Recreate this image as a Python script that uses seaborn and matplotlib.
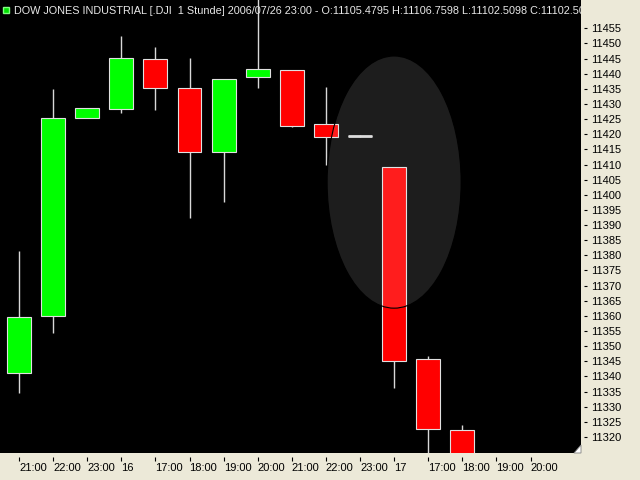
import numpy as np
import seaborn as sns
import matplotlib.pyplot as plt
from matplotlib.patches import Ellipse, Polygon

# Stundenkerzen DJI
tick_labels = ['21:00', '22:00', '23:00', '16', '17:00', '18:00', '19:00', '20:00',
               '21:00', '22:00', '23:00', '17', '17:00', '18:00', '19:00', '20:00']
opens = [11341.0, 11360.0, 11425.3, 11428.3, 11445.0, 11435.4, 11414.2, 11438.8,
         11441.1, 11423.3, 11419.4, 11409.1, 11345.8, 11322.3]
closes = [11359.6, 11425.3, 11428.6, 11445.1, 11435.2, 11414.0, 11438.4, 11441.5,
          11422.7, 11419.0, 11419.4, 11345.1, 11322.7, 11308.0]
highs = [11381.4, 11434.9, 11428.6, 11452.4, 11448.7, 11445.3, 11438.4, 11466.0,
         11441.1, 11435.5, 11419.7, 11409.1, 11346.8, 11324.0]
lows = [11334.5, 11354.3, 11425.3, 11427.0, 11427.9, 11392.2, 11397.6, 11435.2,
        11422.3, 11409.8, 11419.1, 11336.1, 11313.0, 11305.0]
y_ticks = list(range(11320, 11460, 5))
title = ('DOW JONES INDUSTRIAL [.DJI  1 Stunde] 2006/07/26 23:00 - O:11105.4795 '
         'H:11106.7598 L:11102.5098 C:11102.5098')

sns.set_style('dark')
plt.rcParams['font.family'] = ['Liberation Sans', 'DejaVu Sans']

bg = '#ece9d8'
fig = plt.figure(figsize=(6.4, 4.8), dpi=100, facecolor=bg)
ax = fig.add_axes([0, 27 / 480, 581 / 640, 453 / 480])
ax.set_facecolor('black')

o = np.array(opens)
c = np.array(closes)
x = np.arange(len(o))
cols = np.where(c > o, '#00ff00', '#ff0000')

ax.vlines(x, lows, highs, color='#d8d8d8', linewidth=1, zorder=1)
ax.bar(x, np.abs(c - o), bottom=np.minimum(o, c), width=0.7, color=cols,
       edgecolor='#e0e0e0', linewidth=0.8, zorder=2)
doji = c == o
ax.hlines(o[doji], x[doji] - 0.35, x[doji] + 0.35, color='#d8d8d8', linewidth=2, zorder=3)

# grauer Kreis
ax.add_patch(Ellipse((11.0, 11404.2), 3.93, 83.3, facecolor=(1, 1, 1, 0.118),
                     edgecolor='black', linewidth=0.8, zorder=4))

ax.set_xlim(-0.557, 16.48)
ax.set_ylim(11314.7, 11464.35)

# Titelzeile
ax.text(13.5 / 581, 1 - 11.5 / 453, title, transform=ax.transAxes, va='center', ha='left',
        color='#e8e8e8', fontsize=7.8, clip_on=True, zorder=0)
ax.plot([6 / 581], [1 - 10 / 453], marker='s', markersize=4, color='#00e000',
        markeredgecolor='#80ff80', transform=ax.transAxes, zorder=5)

ax.add_patch(Polygon([(1, 0), (1, 8 / 453), (1 - 7 / 581, 0)], closed=True,
                     transform=ax.transAxes, facecolor='white', edgecolor='#808080',
                     linewidth=0.6, clip_on=False, zorder=6))

for s in ax.spines.values():
    s.set_visible(False)
ax.grid(False)

ax.yaxis.tick_right()
ax.spines['right'].set_position(('outward', 2.2))
ax.set_yticks(y_ticks)
ax.set_yticklabels([str(v) for v in y_ticks])
ax.tick_params(axis='y', right=True, left=False, length=2.5, width=0.8, color='black',
               pad=2.5, labelsize=8, labelcolor='black', direction='out')

ax.spines['bottom'].set_position(('outward', 3))
ax.set_xticks(np.arange(len(tick_labels)))
ax.set_xticklabels(tick_labels, ha='left')
ax.tick_params(axis='x', bottom=True, length=3, width=0.8, color='black',
               pad=1.5, labelsize=8, labelcolor='black', direction='out')

plt.savefig('out.png', dpi=100, facecolor=bg)
